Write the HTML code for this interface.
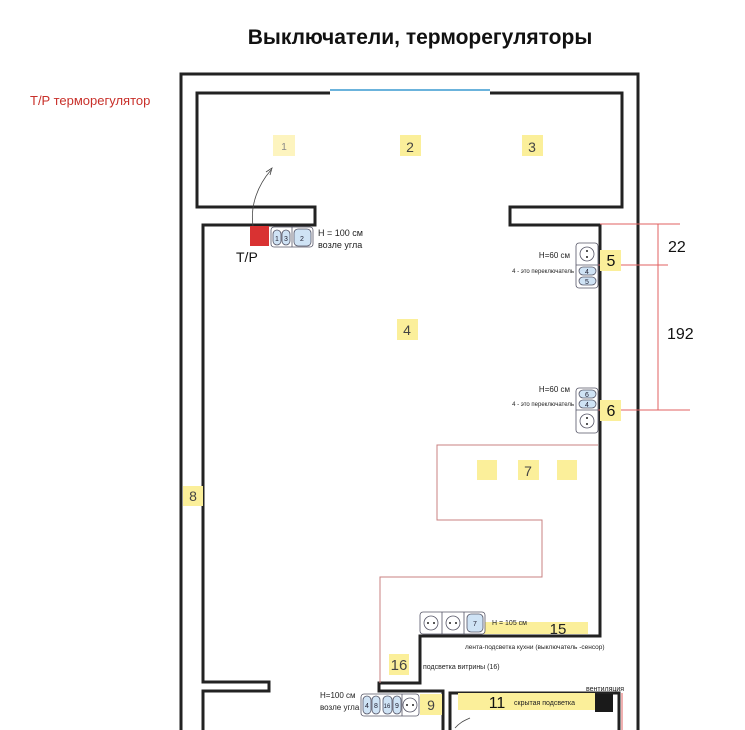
<!DOCTYPE html>
<html><head><meta charset="utf-8"><style>
html,body{margin:0;padding:0;background:#fff;}
svg{display:block;}
text{font-family:"Liberation Sans","DejaVu Sans",sans-serif;}
</style></head><body>
<svg width="745" height="730" viewBox="0 0 745 730" xmlns="http://www.w3.org/2000/svg">
<text x="420" y="44" text-anchor="middle" font-size="21" font-weight="bold" fill="#111">Выключатели, терморегуляторы</text>
<text x="30" y="105" font-size="13" fill="#c8302a">T/P  терморегулятор</text>

<g fill="none" stroke="#222" stroke-width="3">
<polyline points="181,730 181,74 638,74 638,730"/>
<polyline points="330,93 197,93 197,207 315,207 315,225 203,225 203,682 269,682 269,691 203,691 203,730"/>
<polyline points="490,93 622,93 622,207 510,207 510,225 600,225 600,636 420,636 420,683 379,683 379,691 443,691 443,730"/>
<polyline points="450,730 450,693 619,693 619,730"/>
</g>
<line x1="330" y1="90" x2="490" y2="90" stroke="#3a9ad0" stroke-width="1.5"/>

<g fill="none" stroke="#e06060" stroke-width="1">
<line x1="600" y1="224" x2="680" y2="224"/>
<line x1="598" y1="265" x2="668" y2="265"/>
<line x1="598" y1="410" x2="690" y2="410"/>
<line x1="658" y1="224" x2="658" y2="410"/>
<line x1="622" y1="693" x2="622" y2="730"/>
</g>
<g fill="none" stroke="#c98080" stroke-width="1">
<polyline points="598,445 437,445 437,520 542,520 542,577 380,577 380,683"/>
</g>
<text x="668" y="252" font-size="16" fill="#111">22</text>
<text x="667" y="339" font-size="16" fill="#111">192</text>

<g fill="#fbef9a">
<rect x="273" y="135" width="22" height="21" fill="#fdf4bf"/>
<rect x="400" y="135" width="21" height="21"/>
<rect x="522" y="135" width="21" height="21"/>
<rect x="397" y="319" width="21" height="21"/>
<rect x="600" y="250" width="21" height="21"/>
<rect x="600" y="400" width="21" height="21"/>
<rect x="477" y="460" width="20" height="20"/>
<rect x="518" y="460" width="21" height="20"/>
<rect x="557" y="460" width="20" height="20"/>
<rect x="183" y="486" width="20" height="20"/>
<rect x="443" y="622" width="145" height="12"/>
<rect x="389" y="654" width="20" height="21"/>
<rect x="420" y="694" width="22" height="21"/>
<rect x="458" y="693" width="137" height="17"/>
</g>
<g font-size="14" fill="#444" text-anchor="middle">
<text x="284" y="150" font-size="10" fill="#888">1</text>
<text x="410" y="152">2</text>
<text x="532" y="152">3</text>
<text x="407" y="335">4</text>
<text x="611" y="266" fill="#111" font-size="16">5</text>
<text x="611" y="416" fill="#111" font-size="16">6</text>
<text x="528" y="476">7</text>
<text x="193" y="501">8</text>
<text x="431" y="710">9</text>
<text x="558" y="634" font-size="15" fill="#222">15</text>
<text x="399" y="670" font-size="15">16</text>
<text x="497" y="708" fill="#111" font-size="16">11</text>
</g>

<rect x="250" y="226" width="19" height="20" fill="#d93232"/>
<text x="236" y="262" font-size="14" fill="#111">T/P</text>
<path d="M253,226 C250,205 258,185 271,170" fill="none" stroke="#444" stroke-width="0.8"/>
<path d="M266,172 L272,168 L270,175" fill="none" stroke="#444" stroke-width="0.8"/>

<g stroke="#556" stroke-width="0.8">
<rect x="271" y="227" width="42" height="20" rx="3" fill="#fff"/>
<line x1="292" y1="227" x2="292" y2="247"/>
<rect x="273" y="230" width="8" height="15" rx="4" fill="#cfe3f5"/>
<rect x="282" y="230" width="8" height="15" rx="4" fill="#cfe3f5"/>
<rect x="294" y="229" width="17" height="17" rx="4" fill="#cfe3f5"/>
</g>
<g font-size="7" fill="#223" text-anchor="middle">
<text x="277" y="241">1</text><text x="286" y="241">3</text><text x="302" y="241">2</text>
</g>
<text x="318" y="236" font-size="9" fill="#222">H = 100 см</text>
<text x="318" y="248" font-size="9" fill="#222">возле угла</text>

<g stroke="#556" stroke-width="0.8">
<rect x="576" y="243" width="22" height="45" rx="3" fill="#fff"/>
<line x1="576" y1="265" x2="598" y2="265"/>
<circle cx="587" cy="254" r="7" fill="#fff"/>
<rect x="579" y="267" width="17" height="8" rx="4" fill="#cfe3f5"/>
<rect x="579" y="277" width="17" height="8" rx="4" fill="#cfe3f5"/>
<rect x="576" y="388" width="22" height="45" rx="3" fill="#fff"/>
<line x1="576" y1="410" x2="598" y2="410"/>
<rect x="579" y="390" width="17" height="8" rx="4" fill="#cfe3f5"/>
<rect x="579" y="400" width="17" height="8" rx="4" fill="#cfe3f5"/>
<circle cx="587" cy="421" r="7" fill="#fff"/>
</g>
<g fill="#222"><circle cx="587" cy="251" r="1"/><circle cx="587" cy="257" r="1"/><circle cx="587" cy="418" r="1"/><circle cx="587" cy="424" r="1"/></g>
<g font-size="7" fill="#223" text-anchor="middle">
<text x="587" y="274">4</text><text x="587" y="284">5</text><text x="587" y="397">6</text><text x="587" y="407">4</text>
</g>
<text x="570" y="258" font-size="8" fill="#222" text-anchor="end">H=60 см</text>
<text x="574" y="273" font-size="6" fill="#222" text-anchor="end">4 - это переключатель</text>
<text x="570" y="392" font-size="8" fill="#222" text-anchor="end">H=60 см</text>
<text x="574" y="406" font-size="6" fill="#222" text-anchor="end">4 - это переключатель</text>

<g stroke="#556" stroke-width="0.8">
<rect x="420" y="612" width="65" height="22" rx="3" fill="#fff"/>
<line x1="442" y1="612" x2="442" y2="634"/><line x1="464" y1="612" x2="464" y2="634"/>
<circle cx="431" cy="623" r="7" fill="#fff"/><circle cx="453" cy="623" r="7" fill="#fff"/>
<rect x="467" y="614" width="16" height="18" rx="4" fill="#cfe3f5"/>
<rect x="361" y="694" width="58" height="22" rx="3" fill="#fff"/>
<rect x="363" y="696" width="8" height="18" rx="4" fill="#cfe3f5"/>
<rect x="372" y="696" width="8" height="18" rx="4" fill="#cfe3f5"/>
<rect x="383" y="696" width="9" height="18" rx="4" fill="#cfe3f5"/>
<rect x="393" y="696" width="8" height="18" rx="4" fill="#cfe3f5"/>
<line x1="402" y1="694" x2="402" y2="716"/>
<circle cx="410" cy="705" r="7" fill="#fff"/>
</g>
<g fill="#222"><circle cx="428" cy="623" r="1"/><circle cx="434" cy="623" r="1"/><circle cx="450" cy="623" r="1"/><circle cx="456" cy="623" r="1"/><circle cx="407" cy="705" r="1"/><circle cx="413" cy="705" r="1"/></g>
<g font-size="7" fill="#223" text-anchor="middle">
<text x="475" y="626">7</text><text x="367" y="708">4</text><text x="376" y="708">8</text><text x="387" y="708" font-size="6">16</text><text x="397" y="708">9</text>
</g>
<text x="492" y="625" font-size="7" fill="#222">H = 105 см</text>
<text x="465" y="649" font-size="6.5" fill="#222">лента-подсветка кухни (выключатель -сенсор)</text>
<text x="423" y="669" font-size="7" fill="#222">подсветка витрины (16)</text>
<text x="320" y="698" font-size="8" fill="#222">H=100 см</text>
<text x="320" y="710" font-size="8" fill="#222">возле угла</text>
<text x="514" y="705" font-size="7" fill="#222">скрытая подсветка</text>
<text x="586" y="691" font-size="7" fill="#222">вентиляция</text>
<rect x="595" y="694" width="18" height="18" fill="#1a1a1a"/>
<path d="M455,728 C460,722 466,720 470,718" fill="none" stroke="#444" stroke-width="0.8"/>
</svg>
</body></html>
